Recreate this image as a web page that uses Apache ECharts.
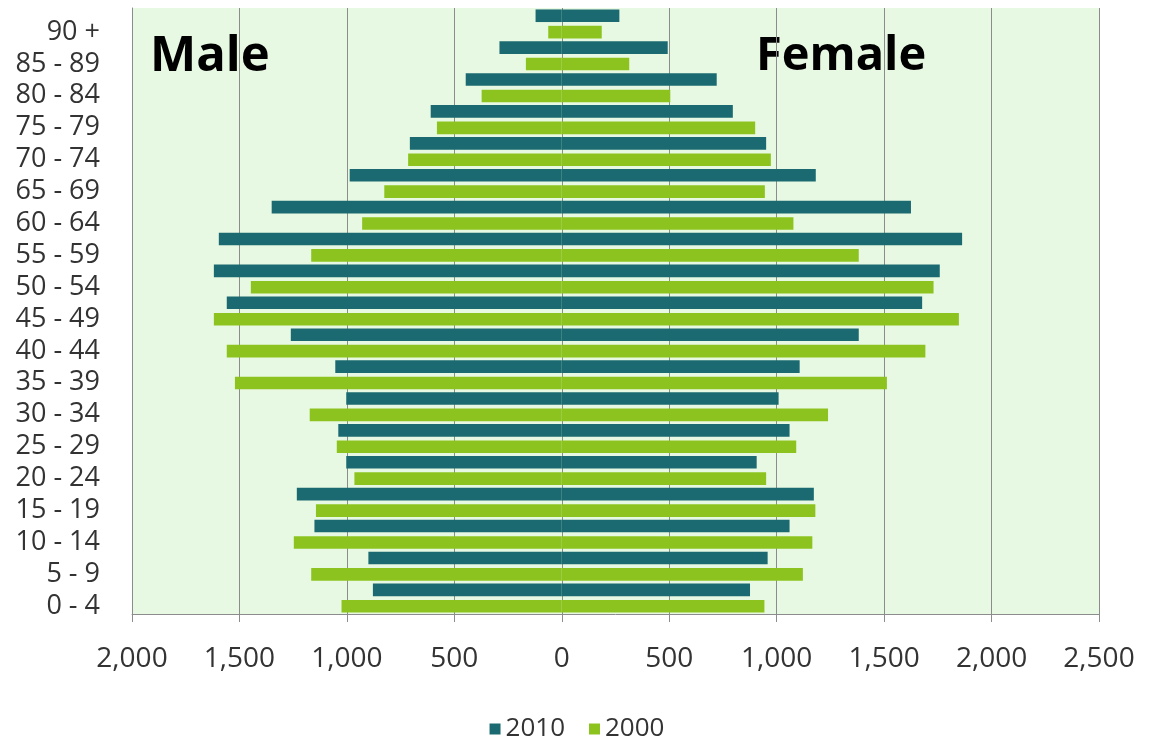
<!DOCTYPE html>
<html>
<head>
<meta charset="utf-8">
<script src="https://cdn.jsdelivr.net/npm/echarts@6/dist/echarts.min.js"></script>
<style>
html,body{margin:0;padding:0;background:#fff;}
#chart{width:1154px;height:738px;}
</style>
</head>
<body>
<div id="chart"></div>
<script>
const categories = ['0 - 4','5 - 9','10 - 14','15 - 19','20 - 24','25 - 29','30 - 34','35 - 39','40 - 44','45 - 49','50 - 54','55 - 59','60 - 64','65 - 69','70 - 74','75 - 79','80 - 84','85 - 89','90 +'];
const male2010   = [879, 900, 1151, 1233, 1003, 1040, 1003, 1054, 1261, 1559, 1619, 1596, 1350, 987, 707, 610, 447, 290, 122];
const female2010 = [876, 958, 1060, 1173, 907, 1060, 1009, 1107, 1382, 1677, 1759, 1863, 1625, 1182, 951, 796, 721, 493, 268];
const male2000   = [1025, 1166, 1247, 1144, 965, 1047, 1173, 1521, 1559, 1619, 1447, 1166, 929, 826, 715, 581, 373, 167, 63];
const female2000 = [943, 1122, 1166, 1180, 951, 1091, 1239, 1513, 1692, 1848, 1730, 1382, 1078, 945, 973, 900, 505, 314, 186];
const xTicks = {min: -2000, max: 2500, interval: 500};
const seriesNames = ['2010', '2000'];

const DARK = '#1b6a71';
const LIGHT = '#8cc31f';
const FONT = '"Open Sans", sans-serif';

const chart = echarts.init(document.getElementById('chart'));
const neg = a => a.map(v => -v);

chart.setOption({
  animation: false,
  backgroundColor: '#ffffff',
  textStyle: {fontFamily: FONT},
  grid: {left: 132, right: 55, top: 8, bottom: 124, show: true, backgroundColor: '#e8f9e3', borderWidth: 0},
  legend: {
    data: seriesNames,
    bottom: -9,
    left: 'center',
    itemWidth: 11,
    itemHeight: 11,
    itemGap: 24,
    icon: 'rect',
    textStyle: {fontSize: 26, color: '#333', fontFamily: FONT}
  },
  xAxis: {
    type: 'value',
    min: xTicks.min, max: xTicks.max, interval: xTicks.interval,
    axisLine: {show: true, lineStyle: {color: '#8c8c8c', width: 1}},
    axisTick: {show: true, length: 8, lineStyle: {color: '#8c8c8c'}},
    splitLine: {show: true, lineStyle: {color: '#8c8c8c', width: 1}},
    axisLabel: {
      fontSize: 28, color: '#333', fontFamily: FONT, margin: 31,
      formatter: v => Math.abs(v).toLocaleString('en-US')
    }
  },
  yAxis: {
    type: 'category',
    data: categories,
    axisLine: {show: true, onZero: false, lineStyle: {color: '#8c8c8c'}},
    axisTick: {show: false},
    axisLabel: {fontSize: 27, color: '#333', fontFamily: FONT, margin: 32, interval: 0, hideOverlap: false, verticalAlign: 'top', lineHeight: 16}
  },
  graphic: [
    {type: 'text', left: 150, top: 33, style: {text: 'Male', font: 'bold 49px "Open Sans", sans-serif', fill: '#000'}},
    {type: 'text', left: 756, top: 33, style: {text: 'Female', font: 'bold 47px "Open Sans", sans-serif', fill: '#000'}}
  ],
  series: [
    {name: '2010', type: 'bar', stack: 's2010', data: neg(male2010), itemStyle: {color: DARK}, barCategoryGap: '9%', barGap: '30%'},
    {name: '2010', type: 'bar', stack: 's2010', data: female2010, itemStyle: {color: DARK}},
    {name: '2000', type: 'bar', stack: 's2000', data: neg(male2000), itemStyle: {color: LIGHT}},
    {name: '2000', type: 'bar', stack: 's2000', data: female2000, itemStyle: {color: LIGHT}}
  ]
});
</script>
</body>
</html>
